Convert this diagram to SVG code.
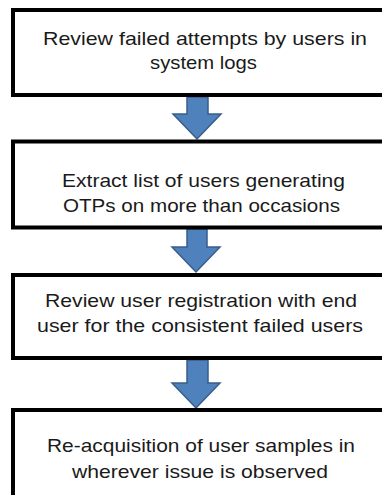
<svg xmlns="http://www.w3.org/2000/svg" width="382" height="495" viewBox="0 0 382 495">
<defs>
<style>
.box{fill:#fff;stroke:#000;stroke-width:4}
.lbl{font-family:"Liberation Sans",Arial,sans-serif;font-size:19px;fill:#1a1a1a;text-anchor:middle}
.arr{fill:#4f81bd;stroke:#385d8a;stroke-width:1.5;stroke-linejoin:miter}
</style>
</defs>
<rect width="382" height="495" fill="#fff"/>
<g id="connectors">
<path class="arr" d="M187,97 H208 V114 H221 L197,139 L173,114 H187 Z"/>
<path class="arr" d="M187,229 H207 V247 H220 L196,272 L172,247 H187 Z"/>
<path class="arr" d="M187,360 H208 V383 H220 L196,408 L172,383 H187 Z"/>
</g>
<g id="node1">
<rect class="box" x="13" y="10" width="390" height="85"/>
<text class="lbl" x="205" y="45" textLength="324" lengthAdjust="spacingAndGlyphs">Review failed attempts by users in</text>
<text class="lbl" x="203.5" y="69" textLength="107" lengthAdjust="spacingAndGlyphs">system logs</text>
</g>
<g id="node2">
<rect class="box" x="13" y="141.5" width="390" height="86"/>
<text class="lbl" x="203.5" y="187" textLength="283" lengthAdjust="spacingAndGlyphs">Extract list of users generating</text>
<text class="lbl" x="201.5" y="212" textLength="277" lengthAdjust="spacingAndGlyphs">OTPs on more than occasions</text>
</g>
<g id="node3">
<rect class="box" x="13" y="275" width="390" height="83"/>
<text class="lbl" x="201" y="307" textLength="312" lengthAdjust="spacingAndGlyphs">Review user registration with end</text>
<text class="lbl" x="200" y="332" textLength="326" lengthAdjust="spacingAndGlyphs">user for the consistent failed users</text>
</g>
<g id="node4">
<rect class="box" x="13" y="410" width="390" height="100"/>
<text class="lbl" x="201" y="452" textLength="308" lengthAdjust="spacingAndGlyphs">Re-acquisition of user samples in</text>
<text class="lbl" x="200" y="478" textLength="256" lengthAdjust="spacingAndGlyphs">wherever issue is observed</text>
</g>
</svg>
